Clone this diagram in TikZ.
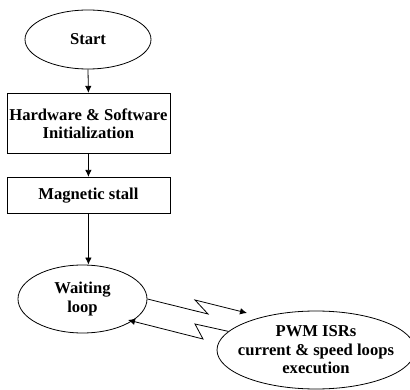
\documentclass[tikz,border=0pt]{standalone}
\usepackage{fontspec}
\setmainfont{Liberation Serif}
\usetikzlibrary{shapes.geometric,arrows.meta}

\begin{document}
\begin{tikzpicture}[x=1pt,y=-1pt,
  every node/.style={font=\bfseries\fontsize{16.6}{18.5}\selectfont,align=center,inner sep=0pt},
  term/.style={draw,ellipse,line width=0.8pt},
  procbox/.style={draw,rectangle,line width=0.8pt,minimum width=163pt},
  flow/.style={line width=0.8pt,-{Latex[length=7pt,width=6.5pt]}},
  bolt/.style={line width=0.8pt,line join=miter,-{Latex[length=7pt,width=6.5pt]}}]
  \useasboundingbox (0,0) rectangle (410,390);

  % main sequence
  \node[term,minimum width=126pt,minimum height=59pt] (start) at (88,39.5) {Start};
  \node[procbox,minimum height=60.5pt] (init) at (88.4,123.5) {Hardware \& Software\\Initialization};
  \node[procbox,minimum height=36pt] (stall) at (88.4,195.3) {Magnetic stall};
  \node[term,minimum width=129pt,minimum height=68pt] (wait) at (82.5,299) {Waiting\\loop};
  % the wide three-line label would otherwise inflate the ellipse
  \node[term,inner xsep=-12pt,inner ysep=-4pt,minimum width=198pt,minimum height=78pt] (pwm) at (316,350) {PWM ISRs\\current \& speed loops\\execution};

  \draw[flow] (start.south) -- (init.north);
  \draw[flow] (init.south) -- (stall.north);
  \draw[flow] (stall.south) -- (stall.south |- wait.north);

  % interrupt entry and return
  \coordinate (irqtip) at (247,313);
  \coordinate (rettip) at (128,320);
  \draw[bolt] (wait.east) -- (208,314) -- (195,300) -- (irqtip);
  \draw[bolt] (pwm.168) -- (195,324) -- (203,339) -- (rettip);
\end{tikzpicture}
\end{document}
